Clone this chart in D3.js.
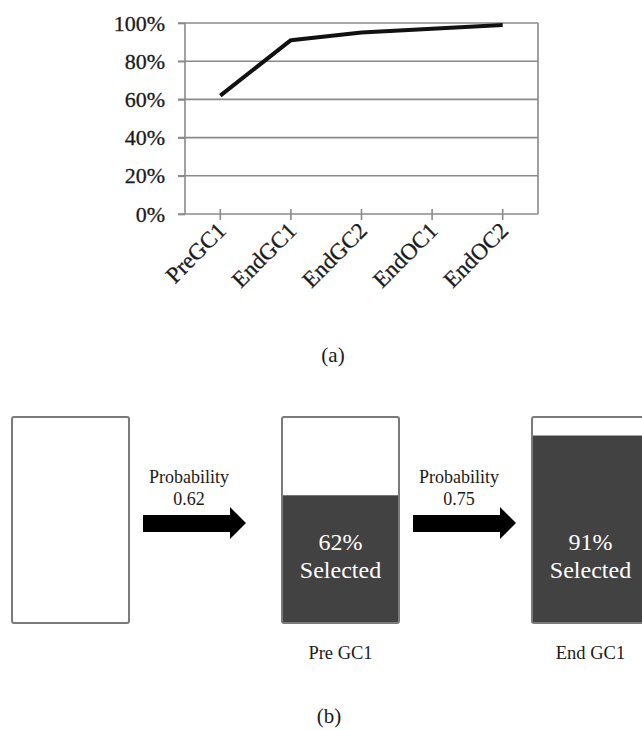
<!DOCTYPE html>
<html>
<head>
<meta charset="utf-8">
<script src="https://cdn.jsdelivr.net/npm/d3@7/dist/d3.min.js"></script>
<style>
  html, body { margin: 0; padding: 0; background: #fff; }
  svg { display: block; }
  text { font-family: "Liberation Serif", "Times New Roman", serif; }
</style>
</head>
<body>
<script>
// ---- Data (a) ----
const stages = ["PreGC1", "EndGC1", "EndGC2", "EndOC1", "EndOC2"];
const selectedShare = [0.62, 0.91, 0.95, 0.97, 0.99];
const yTicks = [0, 0.2, 0.4, 0.6, 0.8, 1.0];

// ---- Data (b) ----
const boxNames = ["", "Pre GC1", "End GC1"];
const boxSelected = [0, 0.62, 0.91];
const transitionProb = [0.62, 0.75];

(function () {
const W = 642, H = 730;
const svg = d3.select("body").append("svg").attr("width", W).attr("height", H);
const ink = "#1a1a1a";

// ===== Panel (a): line chart =====
const pLeft = 185, pRight = 538, pTop = 23, pBottom = 214;
const x = d3.scaleBand().domain(stages).range([pLeft, pRight]);
const y = d3.scaleLinear().domain([0, 1]).range([pBottom, pTop]);
const gridColor = "#8a8a8a";

// gridlines
svg.append("g").selectAll("line").data(yTicks.filter(d => d > 0)).join("line")
  .attr("x1", pLeft - 7).attr("x2", pRight)
  .attr("y1", d => y(d)).attr("y2", d => y(d))
  .attr("stroke", gridColor).attr("stroke-width", 1.6);

// y axis
const yAxis = d3.axisLeft(y).tickValues(yTicks).tickFormat(d3.format(".0%"))
  .tickSize(7).tickPadding(13);
const gy = svg.append("g").attr("transform", `translate(${pLeft},0)`).call(yAxis);
gy.select(".domain").attr("stroke", gridColor).attr("stroke-width", 1.6)
  .attr("d", `M0,${pTop}V${pBottom}`);
gy.selectAll(".tick line").attr("stroke", gridColor).attr("stroke-width", 1.6);
gy.selectAll(".tick text").attr("font-size", 22).attr("fill", ink)
  .attr("font-family", "Liberation Serif")
  .attr("stroke", ink).attr("stroke-width", 0.3);

// right border
svg.append("line").attr("x1", pRight).attr("x2", pRight).attr("y1", pTop).attr("y2", pBottom)
  .attr("stroke", gridColor).attr("stroke-width", 1.6);

// x axis
const xAxis = d3.axisBottom(x).tickSize(0);
const gx = svg.append("g").attr("transform", `translate(0,${pBottom})`).call(xAxis);
gx.select(".domain").attr("stroke", gridColor).attr("stroke-width", 1.6)
  .attr("d", `M${pLeft - 7},0H${pRight}`);
gx.selectAll(".tick text").remove();
gx.selectAll(".tick").append("line").attr("y1", -5).attr("y2", 6)
  .attr("stroke", gridColor).attr("stroke-width", 1.6);
gx.selectAll(".tick").append("text")
  .attr("transform", "translate(7,18) rotate(-45)")
  .attr("text-anchor", "end")
  .attr("font-size", 23).attr("fill", ink)
  .attr("stroke", ink).attr("stroke-width", 0.3)
  .attr("font-family", "Liberation Serif")
  .text(d => d);

// line
const line = d3.line().x((d, i) => x(stages[i]) + x.bandwidth() / 2).y(d => y(d));
svg.append("path").datum(selectedShare).attr("d", line)
  .attr("fill", "none").attr("stroke", "#111").attr("stroke-width", 4)
  .attr("stroke-linejoin", "round");

svg.append("text").attr("x", 333).attr("y", 362).attr("text-anchor", "middle")
  .attr("font-size", 21).attr("fill", ink).text("(a)");

// ===== Panel (b): diagram =====
const boxTop = 417, boxBottom = 623, boxW = 117;
const boxX = d3.scaleOrdinal().domain(boxSelected.map((d, i) => i)).range([12, 282, 532]);
const fillY = d3.scaleLinear().domain([0, 1]).range([boxBottom, boxTop]);

const boxes = svg.append("g").selectAll("g").data(boxSelected).join("g")
  .attr("transform", (d, i) => `translate(${boxX(i)},0)`);

boxes.append("rect").attr("x", 0).attr("y", boxTop).attr("width", boxW)
  .attr("height", boxBottom - boxTop).attr("fill", "#fff");
boxes.filter(d => d > 0).append("rect").attr("x", 0).attr("y", d => fillY(d))
  .attr("width", boxW).attr("height", d => boxBottom - fillY(d)).attr("fill", "#424242");
boxes.append("rect").attr("x", 0).attr("y", boxTop).attr("width", boxW)
  .attr("height", boxBottom - boxTop).attr("fill", "none")
  .attr("stroke", "#7a7a7a").attr("stroke-width", 2).attr("rx", 2);

boxes.filter(d => d > 0).append("text").attr("x", boxW / 2).attr("y", 550)
  .attr("text-anchor", "middle").attr("font-size", 24).attr("fill", "#fff")
  .text(d => d3.format(".0%")(d));
boxes.filter(d => d > 0).append("text").attr("x", boxW / 2).attr("y", 578)
  .attr("text-anchor", "middle").attr("font-size", 24).attr("fill", "#fff")
  .text("Selected");
boxes.append("text").attr("x", boxW / 2).attr("y", 659)
  .attr("text-anchor", "middle").attr("font-size", 18.5).attr("fill", ink)
  .text((d, i) => boxNames[i]);

// arrows
const arrows = svg.append("g").selectAll("g").data(transitionProb).join("g")
  .attr("transform", (d, i) => `translate(${boxX(i) + boxW + 14},0)`);
arrows.append("path")
  .attr("d", "M0,515H87V507L103,523L87,539V532H0Z")
  .attr("fill", "#000");
arrows.append("text").attr("x", 46).attr("y", 483).attr("text-anchor", "middle")
  .attr("font-size", 18).attr("fill", ink).text("Probability");
arrows.append("text").attr("x", 46).attr("y", 505).attr("text-anchor", "middle")
  .attr("font-size", 18).attr("fill", ink).text(d => d3.format(".2f")(d));

svg.append("text").attr("x", 329).attr("y", 723).attr("text-anchor", "middle")
  .attr("font-size", 21).attr("fill", ink).text("(b)");
})();
</script>
</body>
</html>
